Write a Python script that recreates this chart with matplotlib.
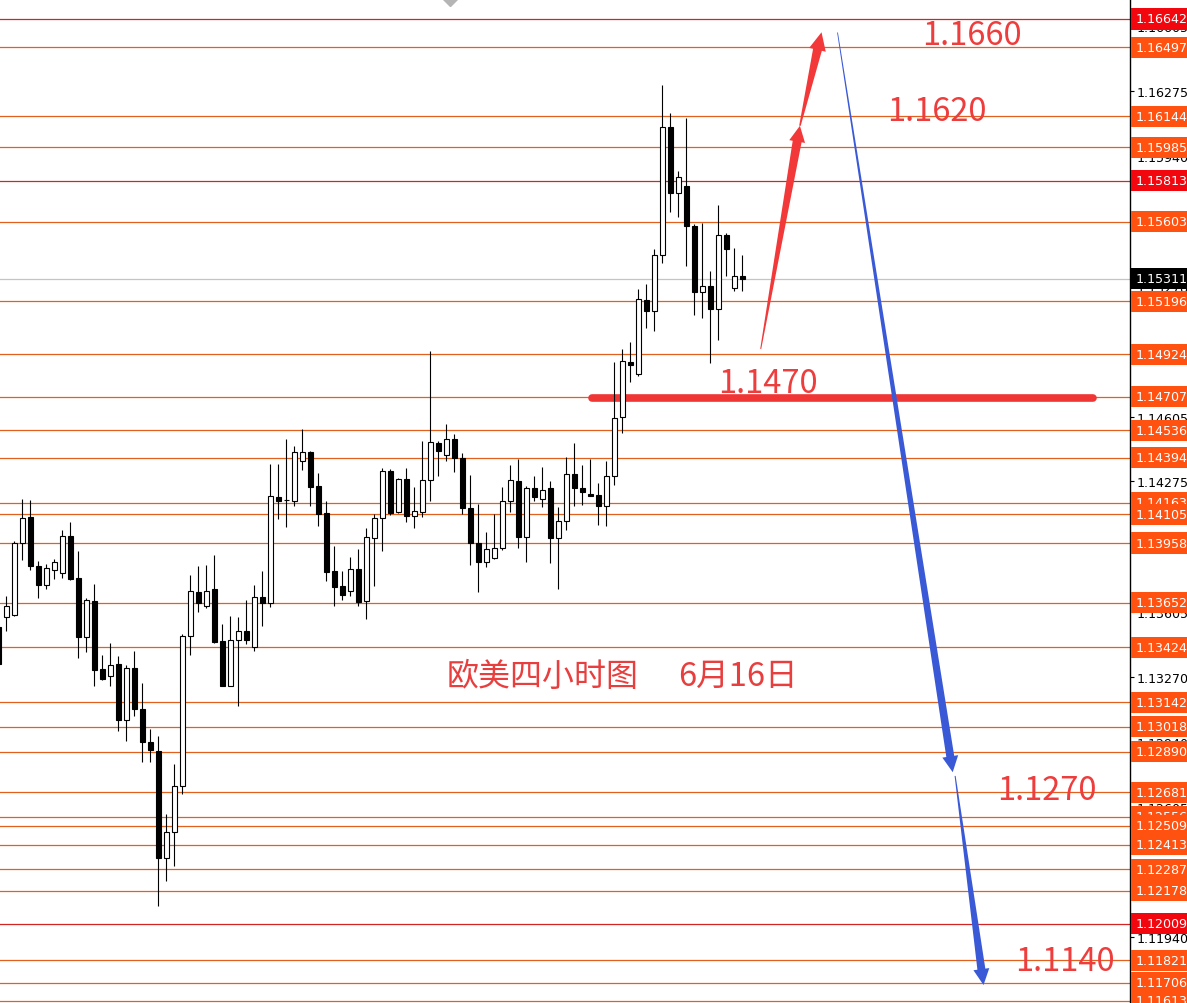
import numpy as np
import matplotlib
matplotlib.use('Agg')
import matplotlib.pyplot as plt
from matplotlib.patches import Polygon
from matplotlib.transforms import IdentityTransform, blended_transform_factory

# EURUSD 4h candles, the first one is cut off by the left edge
opens = [1.13528, 1.13578, 1.13591, 1.13956, 1.14090, 1.13839, 1.13745, 1.13821, 1.13803, 1.13992,
         1.13777, 1.13478, 1.13659, 1.13313, 1.13275, 1.13338, 1.13053, 1.13316, 1.13108, 1.12937,
         1.12894, 1.12343, 1.12476, 1.12715, 1.13483, 1.13706, 1.13634, 1.13722, 1.13455, 1.13227,
         1.13461, 1.13506, 1.13424, 1.13680, 1.13649, 1.14192, 1.14178, 1.14175, 1.14380, 1.14423,
         1.14252, 1.14112, 1.13813, 1.13736, 1.13711, 1.13825, 1.13663, 1.13982, 1.14085, 1.14325,
         1.14115, 1.14286, 1.14098, 1.14118, 1.14282, 1.14470, 1.14410, 1.14491, 1.14392, 1.14137,
         1.13956, 1.13862, 1.13880, 1.13932, 1.14175, 1.14274, 1.13990, 1.14238, 1.14183, 1.14238,
         1.13984, 1.14072, 1.14311, 1.14238, 1.14209, 1.14204, 1.14149, 1.14300, 1.14602, 1.14887,
         1.14824, 1.15203, 1.15145, 1.15433, 1.16087, 1.15751, 1.15788, 1.15580, 1.15242, 1.15276,
         1.15157, 1.15537, 1.15264, 1.15327]
highs = [1.13610, 1.13688, 1.13970, 1.14183, 1.14178, 1.13864, 1.13851, 1.13876, 1.14025, 1.14064,
         1.13919, 1.13676, 1.13748, 1.13384, 1.13446, 1.13381, 1.13335, 1.13403, 1.13241, 1.13005,
         1.12968, 1.12570, 1.12826, 1.13492, 1.13794, 1.13842, 1.13845, 1.13897, 1.13543, 1.13583,
         1.13578, 1.13666, 1.13743, 1.13813, 1.14363, 1.14363, 1.14491, 1.14456, 1.14542, 1.14431,
         1.14317, 1.14175, 1.13941, 1.13813, 1.13885, 1.13927, 1.14033, 1.14107, 1.14342, 1.14337,
         1.14289, 1.14341, 1.14243, 1.14479, 1.14940, 1.14482, 1.14568, 1.14516, 1.14419, 1.14306,
         1.14158, 1.14016, 1.14107, 1.14243, 1.14358, 1.14388, 1.14252, 1.14303, 1.14349, 1.14274,
         1.14141, 1.14400, 1.14470, 1.14358, 1.14388, 1.14265, 1.14377, 1.14884, 1.14952, 1.14986,
         1.15259, 1.15285, 1.15464, 1.16305, 1.16161, 1.15862, 1.16135, 1.15592, 1.15597, 1.15353,
         1.15689, 1.15546, 1.15469, 1.15433]
lows = [1.13323, 1.13509, 1.13586, 1.13873, 1.13821, 1.13676, 1.13722, 1.13774, 1.13779, 1.13770,
        1.13367, 1.13398, 1.13227, 1.13258, 1.13224, 1.12997, 1.12945, 1.13070, 1.12835, 1.12838,
        1.12100, 1.12228, 1.12305, 1.12672, 1.13384, 1.13603, 1.13624, 1.13446, 1.13224, 1.13224,
        1.13122, 1.13441, 1.13403, 1.13534, 1.13632, 1.14081, 1.14038, 1.14149, 1.14334, 1.14149,
        1.14047, 1.13765, 1.13634, 1.13668, 1.13685, 1.13634, 1.13569, 1.13739, 1.13919, 1.14103,
        1.14112, 1.14067, 1.14035, 1.14090, 1.14175, 1.14303, 1.14380, 1.14323, 1.14107, 1.13845,
        1.13709, 1.13837, 1.13876, 1.13924, 1.14115, 1.13932, 1.13859, 1.14175, 1.14144, 1.13854,
        1.13722, 1.14026, 1.14149, 1.14154, 1.14197, 1.14052, 1.14047, 1.14257, 1.14520, 1.14781,
        1.14815, 1.15058, 1.15045, 1.15391, 1.15655, 1.15626, 1.15378, 1.15127, 1.15109, 1.14878,
        1.14999, 1.15324, 1.15247, 1.15250]
closes = [1.13338, 1.13637, 1.13958, 1.14086, 1.13839, 1.13745, 1.13828, 1.13859, 1.13992, 1.13774,
          1.13478, 1.13666, 1.13309, 1.13261, 1.13335, 1.13053, 1.13316, 1.13108, 1.12937, 1.12899,
          1.12343, 1.12476, 1.12715, 1.13483, 1.13711, 1.13649, 1.13714, 1.13453, 1.13227, 1.13461,
          1.13506, 1.13463, 1.13680, 1.13649, 1.14197, 1.14175, 1.14176, 1.14423, 1.14423, 1.14246,
          1.14107, 1.13811, 1.13731, 1.13692, 1.13825, 1.13657, 1.13987, 1.14085, 1.14325, 1.14112,
          1.14286, 1.14098, 1.14120, 1.14282, 1.14474, 1.14431, 1.14491, 1.14392, 1.14137, 1.13956,
          1.13862, 1.13927, 1.13931, 1.14175, 1.14281, 1.13990, 1.14238, 1.14195, 1.14231, 1.13984,
          1.14072, 1.14311, 1.14238, 1.14218, 1.14201, 1.14149, 1.14300, 1.14597, 1.14889, 1.14871,
          1.15208, 1.15145, 1.15433, 1.16087, 1.15749, 1.15831, 1.15580, 1.15242, 1.15276, 1.15157,
          1.15536, 1.15464, 1.15327, 1.15311]

# horizontal levels with their price tags on the right
levels = [1.16642, 1.16497, 1.16144, 1.15985, 1.15813, 1.15603, 1.15196, 1.14924, 1.14707, 1.14536,
          1.14394, 1.14163, 1.14105, 1.13958, 1.13652, 1.13424, 1.13142, 1.13018, 1.12890, 1.12681,
          1.12556, 1.12509, 1.12413, 1.12287, 1.12178, 1.12009, 1.11821, 1.11706, 1.11613]
red_levels = [1.16642, 1.15813, 1.12009]
last_price = 1.15311

# price scale labels
axis_ticks = [1.16605, 1.16275, 1.15940, 1.15605, 1.15270, 1.14940, 1.14605, 1.14275, 1.13940,
              1.13605, 1.13270, 1.12940, 1.12605, 1.12275, 1.11940, 1.11605]

# forecast drawn by hand: red up path, blue down path, key support
up_path = [(94.3, 1.14952), (99.2, 1.16095), (101.9, 1.16574)]
down_path = [(103.9, 1.16573), (118.3, 1.12784), (118.6, 1.12765), (122.15, 1.11694)]
support = 1.1470
support_span = (73.2, 135.8)
targets = ['1.1660', '1.1620', '1.1470', '1.1270', '1.1140']
target_pos = [(114.5, 1.16560), (110.1, 1.16171), (89.0, 1.14778), (123.8, 1.12693), (126.1, 1.11817)]

opens, highs, lows, closes = map(np.array, (opens, highs, lows, closes))
bars = np.arange(-1, len(opens) - 1)

fig = plt.figure(figsize=(11.87, 10.04), dpi=100)
ax = fig.add_axes([0, 0, 1130 / 1187, 1])
ax.set_xlim(-0.79, 140.46)
ax.set_ylim(1.116019, 1.167444)

# levels
tag = blended_transform_factory(ax.transAxes, ax.transData)
for lv in levels:
    red = lv in red_levels
    ax.axhline(lv, color='#D42323' if red else '#E2601E', lw=0.9, zorder=1)
    ax.text(1.0045, lv, f'{lv:.5f}', transform=tag, ha='left', va='center', color='white',
            fontsize=9.1, zorder=5,
            bbox=dict(boxstyle='square,pad=0.32', fc='#F2070F' if red else '#FF5210', ec='none'))
ax.axhline(last_price, color='#C4C4C4', lw=0.9, zorder=1)
ax.text(1.0045, last_price, f'{last_price:.5f}', transform=tag, ha='left', va='center',
        color='white', fontsize=9.1, zorder=5,
        bbox=dict(boxstyle='square,pad=0.32', fc='black', ec='none'))

# support line under the candles
ax.plot(support_span, [support, support], color='#F03535', lw=5.5, solid_capstyle='round', zorder=2.5)

# candles
up = closes >= opens
ax.vlines(bars, lows, highs, color='black', lw=0.8, zorder=3)
ax.bar(bars, np.abs(closes - opens), bottom=np.minimum(opens, closes), width=0.6,
       color=np.where(up, 'white', 'black'), edgecolor='black', linewidth=0.8, zorder=4)

# small period marker at the top
ax.plot([55.46], [1.167444], marker='D', ms=7, color='#B5B5B5', zorder=2)


def brush_arrow(p0, p1, w0, w1, head_w, head_l, color):
    # tapered stroke with a filled head, sizes in pixels
    a = ax.transData.transform(p0)
    b = ax.transData.transform(p1)
    u = (b - a) / np.hypot(*(b - a))
    n = np.array([-u[1], u[0]])
    base = b - u * head_l
    pts = [a + n * w0 / 2, base + n * w1 / 2, base + n * head_w / 2, b,
           base - n * head_w / 2, base - n * w1 / 2, a - n * w0 / 2]
    ax.add_patch(Polygon(pts, closed=True, fc=color, ec='none',
                         transform=IdentityTransform(), zorder=6))


brush_arrow(up_path[0], up_path[1], 1, 9, 16, 16, '#F23838')
brush_arrow(up_path[1], up_path[2], 1.5, 9, 17, 18, '#F23838')
brush_arrow(down_path[0], down_path[1], 0.8, 8, 16, 16, '#3A59D6')
brush_arrow(down_path[2], down_path[3], 1, 8, 16, 16, '#3A59D6')

cjk = ['Noto Sans CJK SC', 'DejaVu Sans']
for label, (x, y) in zip(targets, target_pos):
    ax.text(x, y, label, family=cjk, fontsize=23.5, color='#EE3D3D', ha='left', va='center', zorder=7)
ax.text(55.1, 1.13277, '欧美四小时图', family=cjk, fontsize=23, color='#E83E3E', ha='left', va='center', zorder=7)
ax.text(84.0, 1.13277, '6月16日', family=cjk, fontsize=23.5, color='#E83E3E', ha='left', va='center', zorder=7)

# price scale on the right
ax.set_xticks([])
ax.yaxis.tick_right()
ax.set_yticks(axis_ticks)
ax.set_yticklabels([f'{t:.5f}' for t in axis_ticks])
ax.tick_params(axis='y', length=3, width=0.8, pad=2, labelsize=9.1, direction='out')
for side in ['left', 'top', 'bottom']:
    ax.spines[side].set_visible(False)
ax.spines['right'].set_linewidth(1)

fig.savefig('out.png', dpi=100)
